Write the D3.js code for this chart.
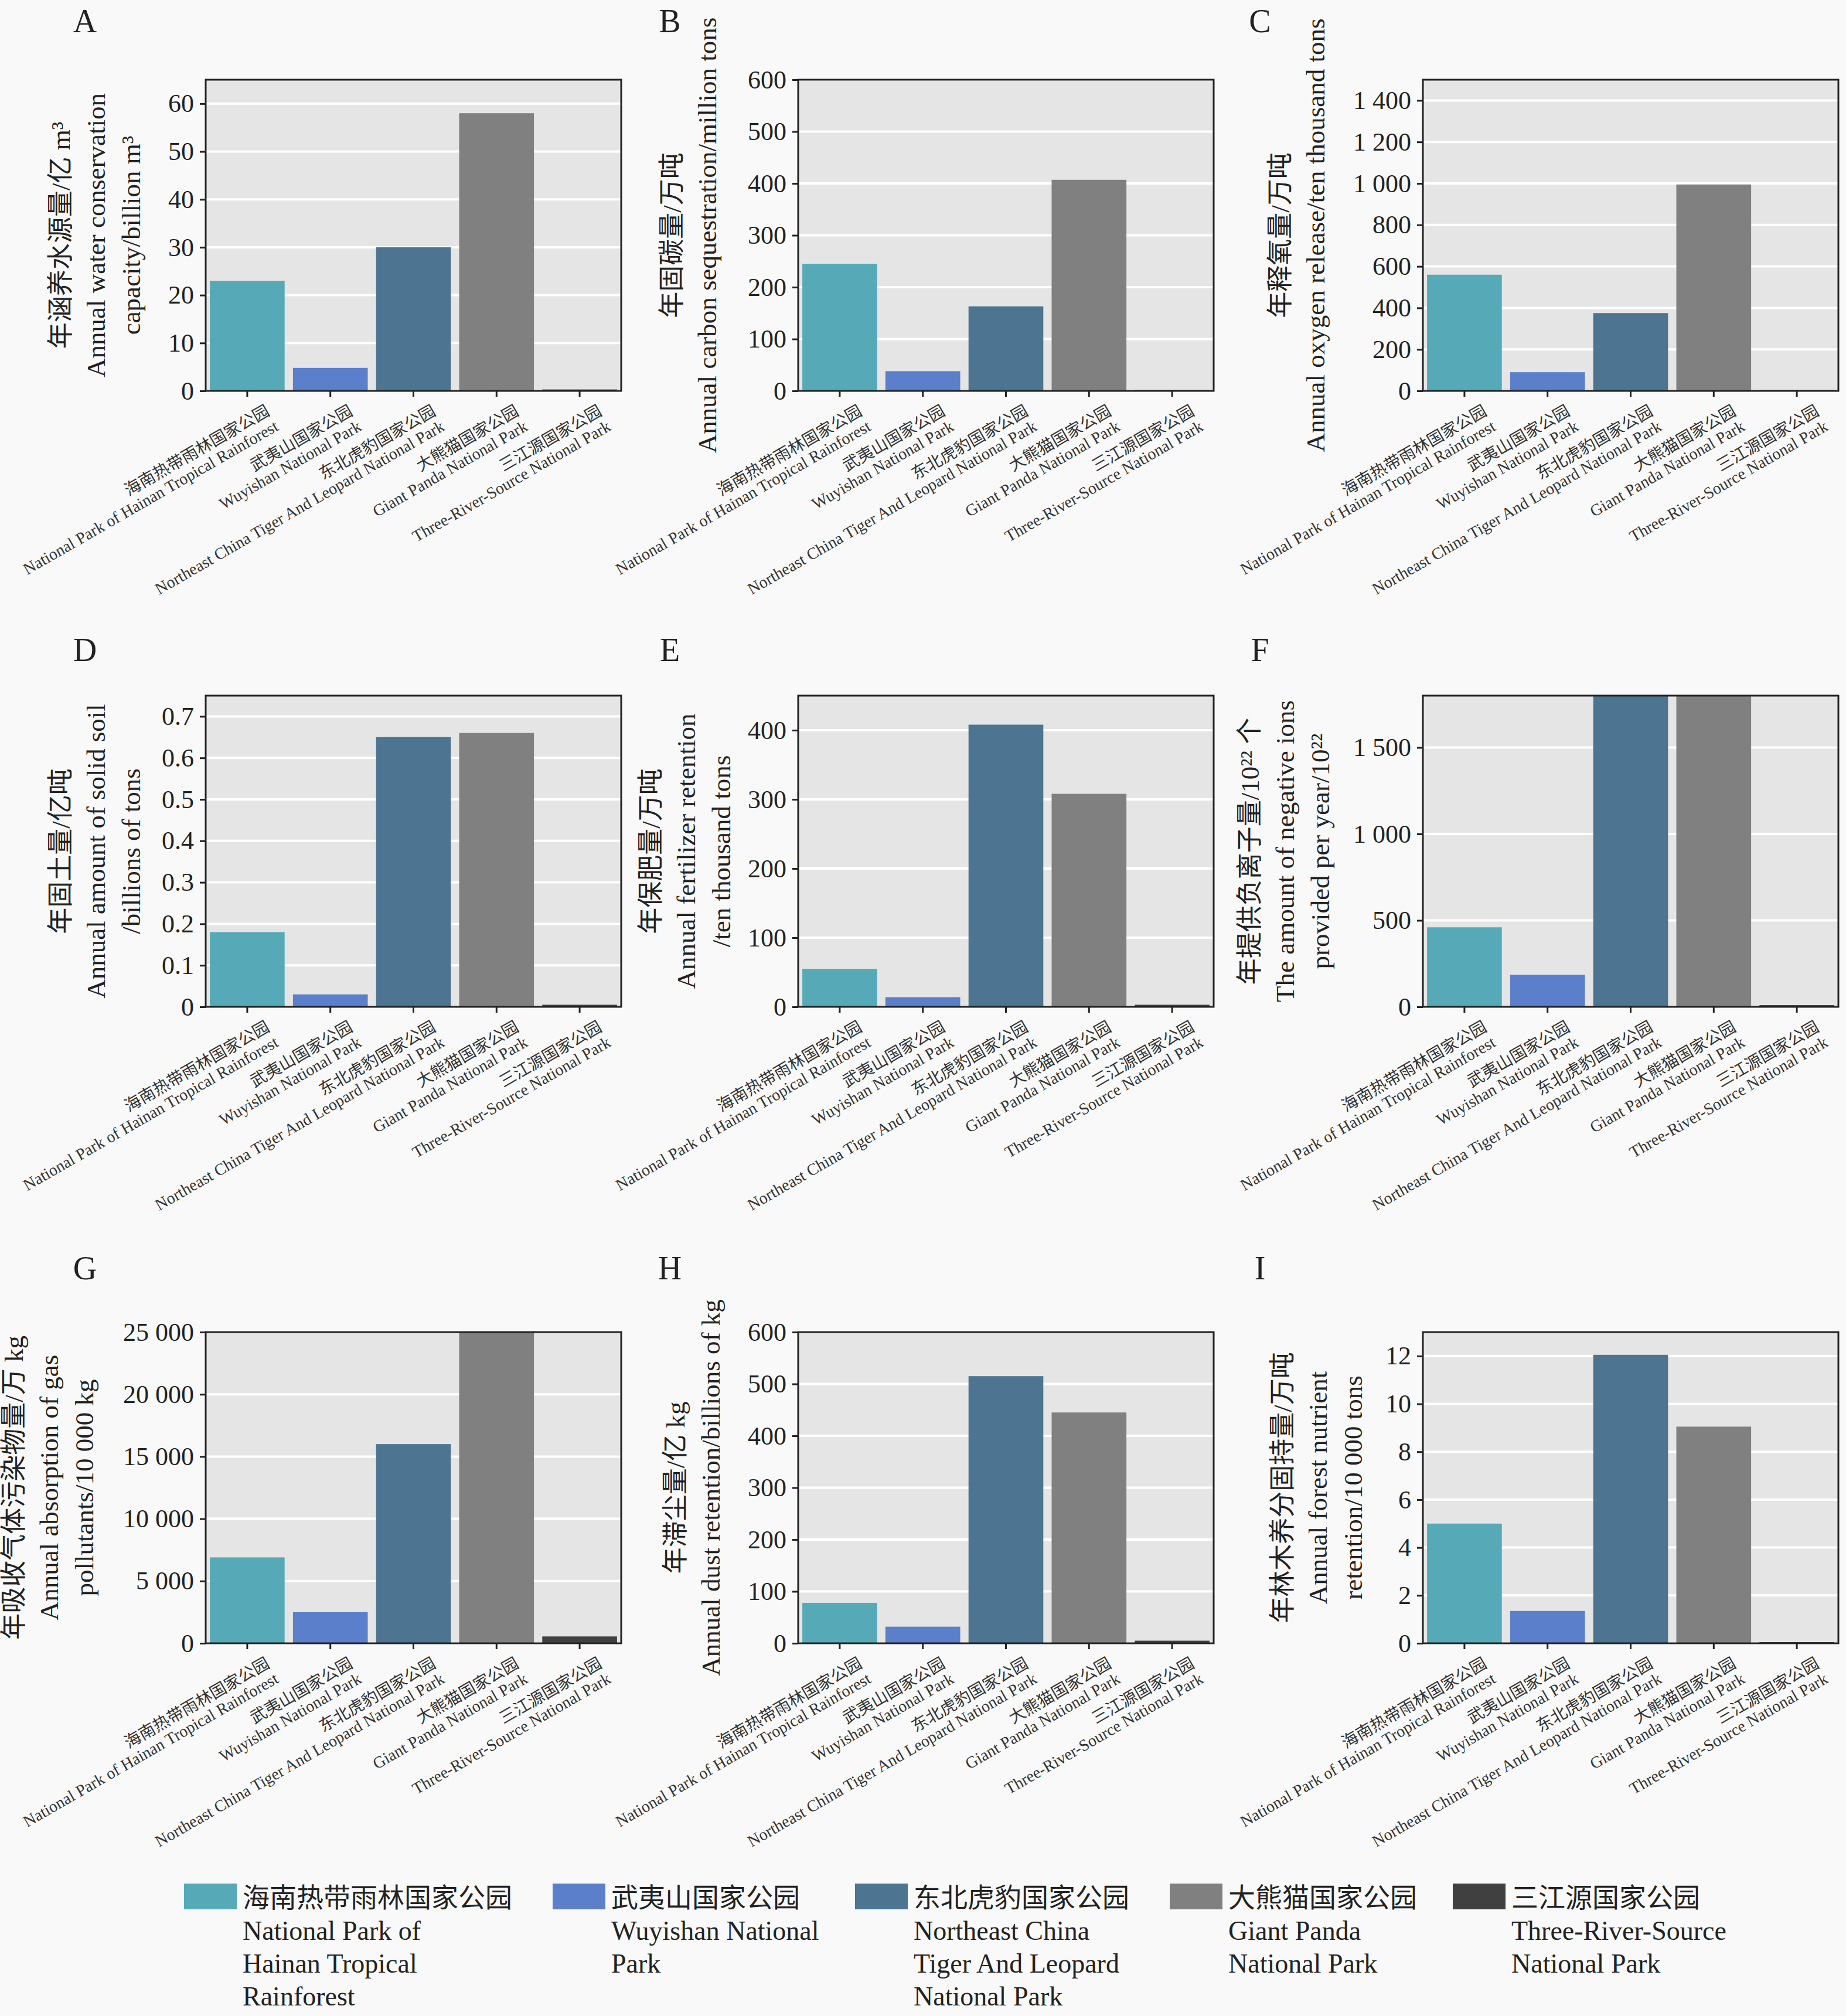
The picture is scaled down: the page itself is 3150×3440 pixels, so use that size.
<!DOCTYPE html>
<html><head><meta charset="utf-8">
<script src="https://cdn.jsdelivr.net/npm/d3@7"></script>
<style>body{margin:0;background:#f9f9f9}svg{font-family:"Liberation Serif","Noto Sans CJK SC",serif}</style>
</head><body><svg id="c" width="3150" height="3440"></svg>
<script>
const parksCn = ["海南热带雨林国家公园","武夷山国家公园","东北虎豹国家公园","大熊猫国家公园","三江源国家公园"]
const parksEn = ["National Park of Hainan Tropical Rainforest","Wuyishan National Park","Northeast China Tiger And Leopard National Park","Giant Panda National Park","Three-River-Source National Park"]
const legendEn = [["National Park of","Hainan Tropical","Rainforest"],["Wuyishan National","Park"],["Northeast China","Tiger And Leopard","National Park"],["Giant Panda","National Park"],["Three-River-Source","National Park"]]
const colors = ["#56aab8","#5b7fcb","#4d7490","#808080","#404040"]

const water = [23, 4.8, 30, 58, 0.3]
const carbon = [245, 38, 163, 407, 2]
const oxygen = [560, 90, 375, 995, 5]
const soil = [0.18, 0.03, 0.65, 0.66, 0.005]
const fertilizer = [55, 14, 408, 308, 3]
const ions = [460, 185, 1800, 1800, 10]
const gas = [6900, 2500, 16000, 25000, 550]
const dust = [78, 32, 515, 445, 5]
const nutrient = [5, 1.35, 12.05, 9.05, 0.05]

const panels = [
  {id:"A", v:water, max:65, step:10, lab:["年涵养水源量/亿 m³","Annual water conservation","capacity/billion m³"], off:112},
  {id:"B", v:carbon, max:600, step:100, lab:["年固碳量/万吨","Annual carbon sequestration/million tons"], off:140},
  {id:"C", v:oxygen, max:1500, step:200, lab:["年释氧量/万吨","Annual oxygen release/ten thousand tons"], off:168},
  {id:"D", v:soil, max:0.75, step:0.1, lab:["年固土量/亿吨","Annual amount of solid soil","/billions of tons"], off:112},
  {id:"E", v:fertilizer, max:450, step:100, lab:["年保肥量/万吨","Annual fertilizer retention","/ten thousand tons"], off:116},
  {id:"F", v:ions, max:1800, step:500, lab:["年提供负离子量/10²² 个","The amount of negative ions","provided per year/10²²"], off:160},
  {id:"G", v:gas, max:25000, step:5000, lab:["年吸收气体污染物量/万 kg","Annual absorption of gas","pollutants/10 000 kg"], off:192},
  {id:"H", v:dust, max:600, step:100, lab:["年滞尘量/亿 kg","Annual dust retention/billions of kg"], off:134},
  {id:"I", v:nutrient, max:13, step:2, lab:["年林木养分固持量/万吨","Annual forest nutrient","retention/10 000 tons"], off:104}
]

const colX = [351, 1362, 2428]
const rowY = [136, 1187, 2273]
const pw = 709, ph = 531

const svg = d3.select("#c")
const fmt = v => d3.format(",")(+v.toFixed(2)).replace(/,/g, " ")

panels.forEach((p, i) => {
  const x0 = colX[i % 3], y0 = rowY[Math.floor(i / 3)]
  const g = svg.append("g").attr("transform", `translate(${x0},${y0})`)
  const x = d3.scaleBand().domain(d3.range(5)).range([0, pw]).paddingInner(0.1).paddingOuter(0.05)
  const y = d3.scaleLinear().domain([0, p.max]).range([ph, 0])
  const ticks = d3.range(0, p.max + 1e-9, p.step).map(t => +t.toFixed(3))

  g.append("rect").attr("width", pw).attr("height", ph).attr("fill", "#e5e5e5")
  g.selectAll(".grid").data(ticks).join("line")
    .attr("x1", 0).attr("x2", pw).attr("y1", d => y(d)).attr("y2", d => y(d))
    .attr("stroke", "#fff").attr("stroke-width", 4)

  g.selectAll(".bar").data(p.v).join("rect")
    .attr("x", (d, j) => x(j)).attr("width", x.bandwidth())
    .attr("y", d => y(Math.min(d, p.max))).attr("height", d => ph - y(Math.min(d, p.max)))
    .attr("fill", (d, j) => colors[j])

  g.append("rect").attr("width", pw).attr("height", ph).attr("fill", "none")
    .attr("stroke", "#222").attr("stroke-width", 3)

  g.append("g").attr("transform", `translate(0,${ph})`)
    .call(d3.axisBottom(x).tickSize(10).tickFormat(""))
    .call(a => a.select(".domain").remove())
    .call(a => a.selectAll("line").attr("stroke", "#222").attr("stroke-width", 3))

  g.append("g").call(d3.axisLeft(y).tickValues(ticks).tickSize(10).tickPadding(10).tickFormat(fmt))
    .call(a => a.select(".domain").remove())
    .call(a => a.selectAll("line").attr("stroke", "#222").attr("stroke-width", 3))
    .call(a => a.selectAll("text").attr("font-size", 44).attr("fill", "#222").attr("font-family", "Liberation Serif"))

  // rotated category labels
  parksCn.forEach((cn, j) => {
    const t = g.append("text")
      .attr("transform", `translate(${x(j) + x.bandwidth() / 2 + 40},${ph + 40}) rotate(-30)`)
      .attr("text-anchor", "end").attr("font-size", 28).attr("fill", "#333")
    t.append("tspan").attr("x", 0).attr("dy", 0).text(cn)
    t.append("tspan").attr("x", 0).attr("dy", 30).text(parksEn[j])
  })

  // y axis title
  const n = p.lab.length
  p.lab.forEach((l, k) => {
    const lx = -p.off - (n - 1 - k) * 60
    g.append("text").attr("transform", `translate(${lx},${ph / 2}) rotate(-90)`)
      .attr("text-anchor", "middle").attr("font-size", 45).attr("fill", "#222").text(l)
  })

  g.append("text").attr("x", (i % 3 === 0 ? 145 : i % 3 === 1 ? 1143 : 2150) - x0)
    .attr("y", (i < 3 ? 55 : i < 6 ? 1128 : 2183) - y0)
    .attr("font-size", 56).attr("fill", "#222").attr("text-anchor", "middle").text(p.id)
})

// legend
const legX = [314, 943, 1459, 1996, 2479]
parksCn.forEach((cn, j) => {
  const lg = svg.append("g").attr("transform", `translate(${legX[j]},3214)`)
  lg.append("rect").attr("width", 90).attr("height", 44).attr("fill", colors[j])
  lg.append("text").attr("x", 100).attr("y", 40).attr("font-size", 46).attr("fill", "#222").text(cn)
  legendEn[j].forEach((l, k) => lg.append("text").attr("x", 100).attr("y", 96 + k * 56)
    .attr("font-size", 46).attr("fill", "#222").text(l))
})
</script></body></html>
